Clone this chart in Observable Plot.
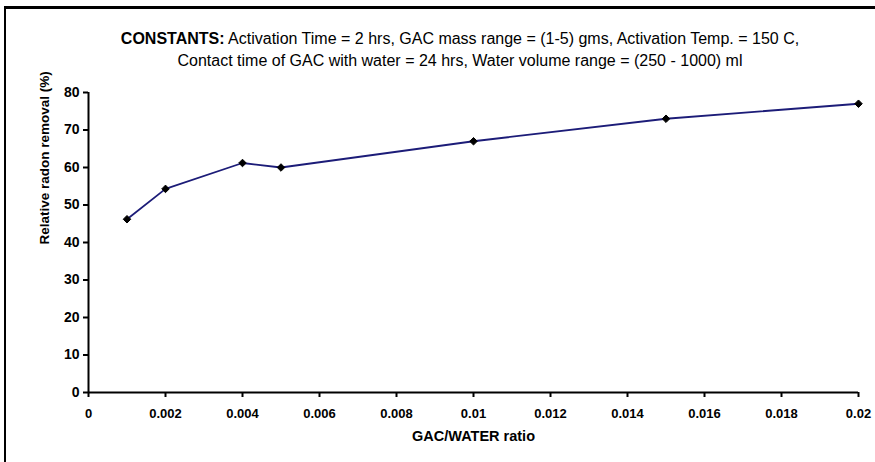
<!DOCTYPE html>
<html><head><meta charset="utf-8">
<script src="https://cdn.jsdelivr.net/npm/d3@7"></script>
<script src="https://cdn.jsdelivr.net/npm/@observablehq/plot@0.6"></script>
<style>
body{margin:0;background:#fff;}
#wrap{position:relative;width:875px;height:462px;overflow:hidden;font-family:"Liberation Sans",Arial,sans-serif;}
#frame{position:absolute;left:4px;top:6px;width:880px;height:470px;border-left:2px solid #000;border-top:3px solid #000;box-sizing:border-box;}
.t{position:absolute;left:0;width:920px;text-align:center;font-size:16px;color:#000;}
#chart{position:absolute;left:0;top:0;}
</style></head>
<body><div id="wrap"><div id="frame"></div>
<div class="t" style="top:30px"><b>CONSTANTS:</b> Activation Time = 2 hrs, GAC mass range = (1-5) gms, Activation Temp. = 150 C,</div>
<div class="t" style="top:52px">Contact time of GAC with water = 24 hrs, Water volume range = (250 - 1000) ml</div>
<div id="chart"></div></div>
<script>
const ratio = [0.001, 0.002, 0.004, 0.005, 0.01, 0.015, 0.02];
const removal = [46.2, 54.3, 61.2, 60.0, 67.0, 73.0, 77.0];
const xTicks = [0, 0.002, 0.004, 0.006, 0.008, 0.01, 0.012, 0.014, 0.016, 0.018, 0.02];
const yTicks = [0, 10, 20, 30, 40, 50, 60, 70, 80];
const data = ratio.map((r, i) => ({r, v: removal[i]}));
const plot = Plot.plot({
  width: 875, height: 462,
  marginLeft: 88, marginRight: 17, marginTop: 92, marginBottom: 70,
  style: {fontFamily: '"Liberation Sans",Arial,sans-serif', fontSize: "13px", fontWeight: "bold", background: "transparent", overflow: "visible"},
  x: {domain: [0, 0.02]},
  y: {domain: [0, 80]},
  marks: [
    Plot.axisX({ticks: xTicks, tickFormat: d => String(d), tickSize: 5, strokeWidth: 2, tickPadding: 11, fontSize: 13, label: null}),
    Plot.axisY({ticks: yTicks, tickSize: 5, strokeWidth: 2, tickPadding: 4, fontSize: 14, label: null}),
    Plot.text(["GAC/WATER ratio"], {frameAnchor: "bottom", dy: 48, fontSize: 14.5, fontWeight: "bold"}),
    Plot.text(["Relative radon removal (%)"], {frameAnchor: "left", dx: -44, dy: 2, rotate: -90, fontSize: 13.5, fontWeight: "bold"}),
    Plot.ruleX([0], {stroke: "#000", strokeWidth: 2}),
    Plot.ruleY([0], {stroke: "#000", strokeWidth: 2}),
    Plot.line(data, {x: "r", y: "v", stroke: "#1c1c78", strokeWidth: 1.8}),
    Plot.dot(data, {x: "r", y: "v", symbol: "diamond2", r: 3.4, fill: "#000", stroke: "#000", strokeWidth: 1})
  ]
});
document.getElementById("chart").appendChild(plot);
</script></body></html>
